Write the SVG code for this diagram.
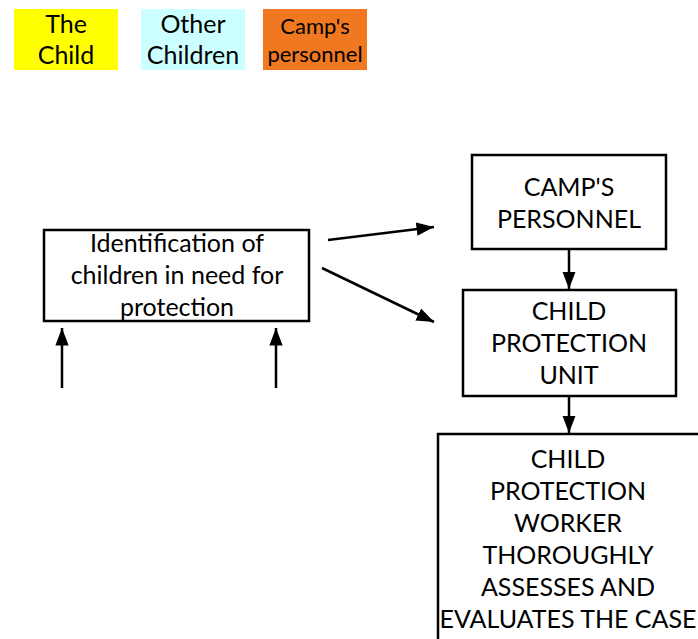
<svg xmlns="http://www.w3.org/2000/svg" width="698" height="639" viewBox="0 0 698 639">
<defs>
<style>
text{font-family:Lato,"Open Sans","Liberation Sans",sans-serif;fill:#000;text-anchor:middle;font-size:25px}
.box{fill:#fff;stroke:#000;stroke-width:2.5}
.c{stroke:#000;stroke-width:2.5;fill:none;marker-end:url(#ah)}
</style>
<marker id="ah" viewBox="0 0 10 10" refX="10" refY="5" markerWidth="7" markerHeight="7" markerUnits="strokeWidth" orient="auto"><path d="M0,1.2 L10,5 L0,8.8 Z" fill="#000"/></marker>
</defs>
<rect width="698" height="639" fill="#fff"/>
<g id="legend-child"><rect x="14" y="9" width="104" height="61" fill="#ffff00"/><text x="66" y="33">The</text><text x="66" y="64">Child</text></g>
<g id="legend-other"><rect x="141" y="9" width="104" height="61" fill="#ccffff"/><text x="193" y="33">Other</text><text x="193" y="64">Children</text></g>
<g id="legend-camp"><rect x="263" y="9" width="104" height="61" fill="#f07820"/><text x="315" y="34" style="font-size:22px">Camp's</text><text x="315" y="62" style="font-size:22px">personnel</text></g>
<g id="identification"><rect class="box" x="44" y="230" width="265" height="91"/><text x="177" y="252">Identification of</text><text x="177" y="284">children in need for</text><text x="177" y="316">protection</text></g>
<g id="camps-personnel"><rect class="box" x="472" y="155" width="194" height="94"/><text x="569" y="196">CAMP'S</text><text x="569" y="228">PERSONNEL</text></g>
<g id="cpu"><rect class="box" x="463" y="290" width="213" height="106"/><text x="569" y="320">CHILD</text><text x="569" y="352">PROTECTION</text><text x="569" y="384">UNIT</text></g>
<g id="worker"><rect class="box" x="438" y="434" width="262" height="220"/><text x="568" y="468">CHILD</text><text x="568" y="500">PROTECTION</text><text x="568" y="532">WORKER</text><text x="568" y="564">THOROUGHLY</text><text x="568" y="596">ASSESSES AND</text><text x="568" y="628">EVALUATES THE CASE</text></g>
<g id="connectors">
<line class="c" x1="328" y1="240" x2="434" y2="227"/>
<line class="c" x1="322" y1="268" x2="434" y2="322"/>
<line class="c" x1="569" y1="250" x2="569" y2="289"/>
<line class="c" x1="569" y1="396" x2="569" y2="433"/>
<line class="c" x1="62" y1="388" x2="62" y2="328"/>
<line class="c" x1="276" y1="388" x2="276" y2="328"/>
</g>
</svg>
